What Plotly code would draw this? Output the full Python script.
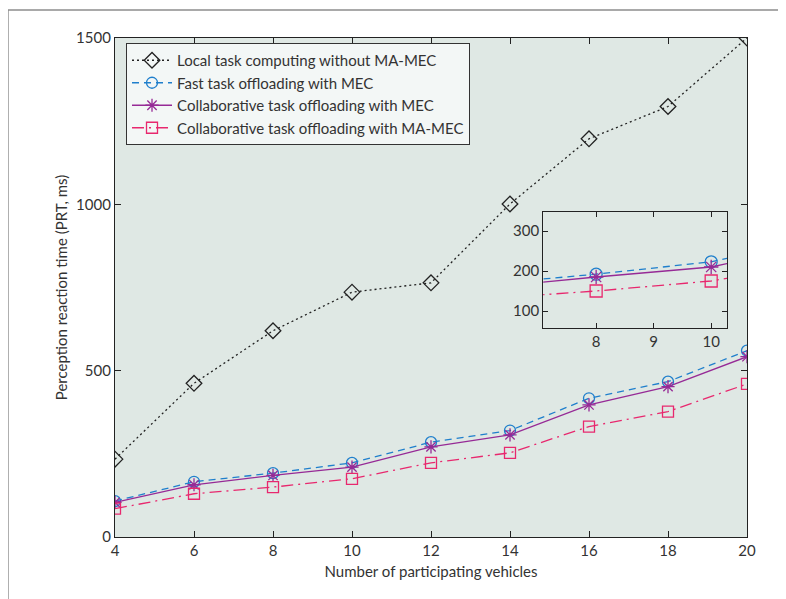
import plotly.graph_objects as go

vehicles = [4, 6, 8, 10, 12, 14, 16, 18, 20]
local_computing = [234, 462, 620, 736, 764, 1001, 1197, 1294, 1500]
fast_offloading = [108, 166, 192, 223, 285, 320, 417, 467, 560]
collab_mec = [104, 157, 185, 210, 271, 307, 397, 452, 542]
collab_mamec = [85, 130, 150, 175, 223, 253, 332, 377, 460]

names = [
    "Local task computing without MA-MEC",
    "Fast task offloading with MEC",
    "Collaborative task offloading with MEC",
    "Collaborative task offloading with MA-MEC",
]
series = [local_computing, fast_offloading, collab_mec, collab_mamec]
colors = ["#222222", "#1f7fcc", "#962a96", "#e8286e"]
symbols = ["diamond-open", "circle-open", "asterisk-open", "square-open"]
dashes = ["2px,3px", "7px,5px", "solid", "12px,5px,2px,5px"]
msizes = [12, 11, 11, 11]

# page body has an 8px margin; work in screen coordinates and subtract it
OFF = 8
W, H = 786 - OFF, 599 - OFF
L, R, T, B = 115 - OFF, 746.7 - OFF, 38 - OFF, 537 - OFF

fig = go.Figure()
for i in range(4):
    fig.add_trace(go.Scatter(
        x=vehicles, y=series[i], name=names[i], mode="lines+markers",
        line=dict(color=colors[i], width=1.3, dash=dashes[i]),
        marker=dict(symbol=symbols[i], size=msizes[i], color=colors[i],
                    line=dict(color=colors[i], width=1.3)),
    ))
for i in range(1, 4):
    fig.add_trace(go.Scatter(
        x=vehicles, y=series[i], name=names[i], mode="lines+markers",
        xaxis="x2", yaxis="y2", showlegend=False,
        line=dict(color=colors[i], width=1.3, dash=dashes[i]),
        marker=dict(symbol=symbols[i], size=msizes[i] + 1, color=colors[i],
                    line=dict(color=colors[i], width=1.3)),
    ))

pw = R - L
ph = B - T
def px(xs):
    return (xs - OFF - L) / pw
def py(ys):
    return (B - (ys - OFF)) / ph

font = "Lato, 'Open Sans', sans-serif"
axis_common = dict(showline=True, linecolor="#222", linewidth=1.2, mirror="ticks",
                   ticks="inside", ticklen=6, tickcolor="#222", showgrid=False,
                   zeroline=False, tickfont=dict(size=15, color="#333", family=font))

fig.update_layout(
    width=W, height=H,
    margin=dict(l=L, r=W - R, t=T, b=H - B),
    paper_bgcolor="white", plot_bgcolor="#dfe8e4",
    font=dict(family=font, color="#333", size=15),
    showlegend=True,
    legend=dict(x=px(126), y=py(43), xanchor="left", yanchor="top",
                bgcolor="#f3f7f6", bordercolor="#333", borderwidth=1,
                font=dict(size=15, color="#333", family=font),
                tracegroupgap=0, itemwidth=40),
    xaxis=dict(range=[4, 20], tickvals=[4, 6, 8, 10, 12, 14, 16, 18, 20],
               title=dict(text="Number of participating vehicles", standoff=8,
                          font=dict(size=15, color="#333")),
               domain=[0, 1], **axis_common),
    yaxis=dict(range=[0, 1500], tickvals=[0, 500, 1000, 1500],
               title=dict(text="Perception reaction time (PRT, ms)", standoff=4,
                          font=dict(size=15, color="#333")),
               domain=[0, 1], **axis_common),
    xaxis2=dict(range=[7.08, 10.28], tickvals=[8, 9, 10], anchor="y2",
                domain=[px(543), px(727)], **{**axis_common, "ticklen": 5}),
    yaxis2=dict(range=[57.5, 347.5], tickvals=[100, 200, 300], anchor="x2",
                domain=[py(328), py(212)], **{**axis_common, "ticklen": 5}),
)

fig.add_shape(type="rect", xref="x2 domain", yref="y2 domain", x0=0, x1=1, y0=0, y1=1,
              fillcolor="#f3f7f6", line=dict(width=0), layer="below")
# outer frame lines
fig.add_shape(type="line", xref="paper", yref="paper", x0=px(8), x1=px(800), y0=py(10), y1=py(10),
              line=dict(color="#8c8c8c", width=1.5))
fig.add_shape(type="line", xref="paper", yref="paper", x0=px(8), x1=px(8), y0=py(10), y1=py(610),
              line=dict(color="#8c8c8c", width=1.5))

fig.write_html("out.html")
